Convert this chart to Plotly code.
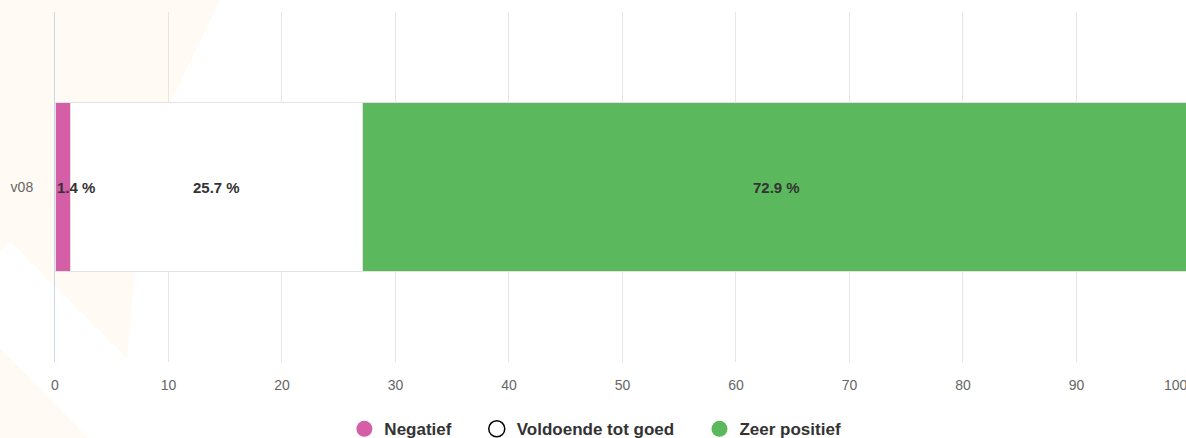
import plotly.graph_objects as go

# Survey result for one question, share of answers per rating group (%)
categories = ["v08"]
series_names = ["Negatief", "Voldoende tot goed", "Zeer positief"]
series_values = [[1.4], [25.7], [72.9]]
series_colors = ["#d45fa6", "#ffffff", "#5cb85c"]
legend_line_colors = ["#d45fa6", "#000000", "#5cb85c"]
x_ticks = [0, 10, 20, 30, 40, 50, 60, 70, 80, 90, 100]
x_max_visible = 99.65  # the 0-100 axis runs slightly past the right edge

W, H = 1186, 438
M_L, M_R, M_T, M_B = 55, 0, 12, 76
PW, PH = W - M_L - M_R, H - M_T - M_B

FONT = "Liberation Sans, Arial, Helvetica, sans-serif"
NBSP = "\u00a0"
HAIR = "\u200a"

fig = go.Figure()

# stacked horizontal bars
for name, vals, color in zip(series_names, series_values, series_colors):
    fig.add_trace(go.Bar(
        y=categories, x=vals, name=name, orientation="h",
        marker=dict(color=color, line=dict(color="#e3e3e3", width=1)),
        width=0.483, showlegend=False, hoverinfo="skip", cliponaxis=True,
    ))

# round legend symbols
for i, (name, color, lc) in enumerate(zip(series_names, series_colors, legend_line_colors)):
    label = name + (NBSP * 4 + HAIR if i < len(series_names) - 1 else "")
    fig.add_trace(go.Scatter(
        x=[None], y=[None], mode="markers", name=label,
        marker=dict(symbol="circle", size=16, color=color,
                    line=dict(color=lc, width=1.5 if color == "#ffffff" else 0)),
    ))

# value labels centred in each segment (kept inside the plot for thin segments)
annotations = []
for cat_i, cat in enumerate(categories):
    start = 0.0
    for vals in series_values:
        v = vals[cat_i]
        if v < 5:
            ax, anchor = start, "left"
        else:
            ax, anchor = start + v / 2, "center"
        annotations.append(dict(
            x=ax, y=cat, xref="x", yref="y", text=f"{v} %", showarrow=False,
            xanchor=anchor, yanchor="middle",
            font=dict(family=FONT, size=15, color="#333333", weight="bold"),
        ))
        start += v

# labels of ticks that fall past the visible axis range
for t in x_ticks:
    if t > x_max_visible:
        annotations.append(dict(
            x=t / x_max_visible, y=0, xref="paper", yref="paper", text=str(t),
            showarrow=False, xanchor="right", yanchor="top", yshift=-13,
            font=dict(family=FONT, size=14, color="#666666"),
        ))


def px_to_paper(px, py):
    return (px - M_L) / PW, (H - M_B - py) / PH


def poly(points):
    pts = [px_to_paper(x, y) for x, y in points]
    return "M " + " L ".join(f"{x:.4f},{y:.4f}" for x, y in pts) + " Z"


# faint background decoration
decor = [
    [(0, 0), (220, 0), (170, 103), (135, 272), (127, 358), (10, 241), (0, 251)],
    [(0, 348), (88, 438), (0, 438)],
]
shapes = [dict(type="path", xref="paper", yref="paper", path=poly(p),
               fillcolor="#fffaf3", line=dict(width=0), layer="below")
          for p in decor]

fig.update_layout(
    width=W, height=H, autosize=False,
    margin=dict(l=M_L, r=M_R, t=M_T, b=M_B, pad=0),
    barmode="stack",
    paper_bgcolor="#ffffff", plot_bgcolor="rgba(0,0,0,0)",
    font=dict(family=FONT, color="#666666", size=14),
    annotations=annotations,
    shapes=shapes,
    showlegend=True,
    legend=dict(
        orientation="h", xref="container", yref="container",
        x=0.502, xanchor="center", y=0.02, yanchor="middle",
        font=dict(family=FONT, size=17, color="#333333", weight="bold"),
        itemwidth=30, bgcolor="rgba(0,0,0,0)", traceorder="normal",
    ),
    xaxis=dict(
        range=[0, x_max_visible], tickvals=x_ticks, ticktext=[str(t) for t in x_ticks],
        showgrid=True, gridcolor="#e6e6e6", gridwidth=1,
        zeroline=False, showline=False, ticks="", ticklabelstandoff=13,
        tickfont=dict(size=14, color="#666666"), fixedrange=True,
    ),
    yaxis=dict(
        type="category", range=[-0.5, 0.5],
        showgrid=False, zeroline=False, showline=True,
        linecolor="#ccd6eb", linewidth=1, ticks="", ticklabelstandoff=18,
        tickfont=dict(size=14, color="#666666"), fixedrange=True,
    ),
)

fig.write_html("out.html", config={"displayModeBar": False})
